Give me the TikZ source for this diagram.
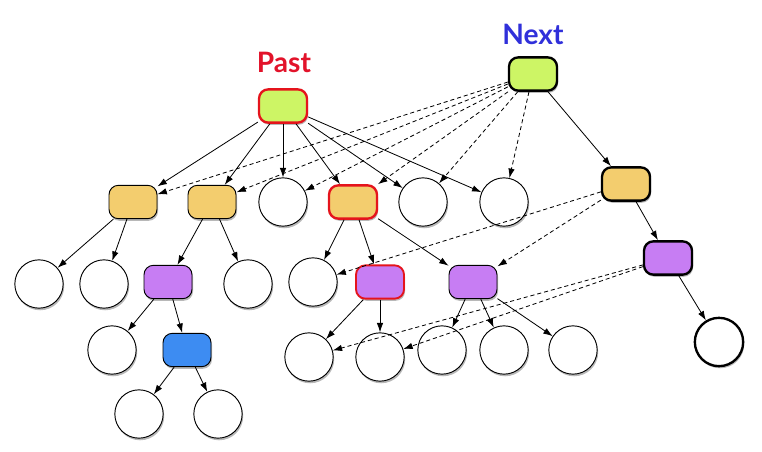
\documentclass[tikz,border=0pt]{standalone}
\usepackage{fontspec}
\setmainfont{Lato}
\usetikzlibrary{arrows.meta,shadows}
\definecolor{limefill}{HTML}{CDF565}
\definecolor{orangefill}{HTML}{F3CD6E}
\definecolor{purplefill}{HTML}{C77DF3}
\definecolor{bluefill}{HTML}{3D8CF2}
\definecolor{pastred}{HTML}{E2132A}
\definecolor{nextblue}{HTML}{3030DA}
\definecolor{edgered}{HTML}{E5141C}

\begin{document}
\begin{tikzpicture}[x=0.03cm,y=-0.03cm,
  shade/.style={drop shadow={shadow xshift=0.9pt,shadow yshift=-1.8pt,opacity=0.35,fill=black!80}},
  box/.style={rectangle,rounded corners=8pt,draw,line width=0.8pt,minimum width=1.44cm,minimum height=1cm,inner sep=0pt,shade},
  leaf/.style={circle,draw,fill=white,line width=0.8pt,minimum size=1.45cm,inner sep=0pt,shade},
  hot/.style={draw=edgered,line width=2pt},
  bold/.style={line width=2pt},
  lbl/.style={anchor=base,font=\fontsize{24}{28}\selectfont\bfseries},
  link/.style={line width=0.7pt,-{Latex[length=8pt,width=5.5pt]}},
  hint/.style={link,dash pattern=on 3.5pt off 2.5pt}]
\useasboundingbox (0,0) rectangle (762,452);

\node[lbl,text=pastred] (pastlbl) at (284,73) {Past};
\node[lbl,text=nextblue] (nextlbl) at (533,45) {Next};

\node[box,fill=limefill,hot] (P) at (283,106) {};
\node[box,fill=limefill,bold] (N) at (533,74) {};

\node[box,fill=orangefill] (A1) at (133,202) {};
\node[box,fill=orangefill] (A2) at (212,202) {};
\node[leaf] (C1) at (283,202) {};
\node[box,fill=orangefill,hot] (A3) at (353,202) {};
\node[leaf] (C2) at (423,202) {};
\node[leaf] (C3) at (504,202) {};
\node[box,fill=orangefill,bold] (B) at (626,184) {};

\node[leaf] (L1) at (39,284) {};
\node[leaf] (L2) at (104,284) {};
\node[box,fill=purplefill] (Q1) at (168,282) {};
\node[leaf] (L3) at (248,284) {};
\node[leaf] (L4) at (313,282) {};
\node[box,fill=purplefill,hot,line width=1.6pt] (Q2) at (380,282) {};
\node[box,fill=purplefill] (Q3) at (473,282) {};
\node[box,fill=purplefill,bold] (Q4) at (668,258) {};

\node[leaf] (L5) at (112,350) {};
\node[box,fill=bluefill] (D) at (187,350) {};
\node[leaf] (L6) at (309,357) {};
\node[leaf] (L7) at (380,357) {};
\node[leaf] (L8) at (442,350) {};
\node[leaf] (L9) at (504,350) {};
\node[leaf] (L10) at (573,350) {};
\node[leaf,bold] (L11) at (719,342) {};

\node[leaf] (L12) at (139,414) {};
\node[leaf] (L13) at (218,414) {};

\draw[link] (P) edge (A1) edge (A2) edge (C1) edge (A3) edge (C2) edge (C3);
\draw[link] (N) edge (B);
\draw[hint] (N) edge (A1) edge (A2) edge (C1) edge (A3) edge (C2) edge (C3);

\draw[link] (A1) edge (L1) edge (L2);
\draw[link] (A2) edge (Q1) edge (L3);
\draw[link] (A3) edge (L4) edge (Q2) edge (Q3);
\draw[link] (B) edge (Q4);
\draw[hint] (B) edge (L4) edge (Q3);

\draw[link] (Q1) edge (L5) edge (D);
\draw[link] (Q2) edge (L6) edge (L7);
\draw[link] (Q3) edge (L8) edge (L9) edge (L10);
\draw[link] (Q4) edge (L11);
\draw[hint] (Q4) edge (L6) edge (L7);

\draw[link] (D) edge (L12) edge (L13);
\end{tikzpicture}
\end{document}
